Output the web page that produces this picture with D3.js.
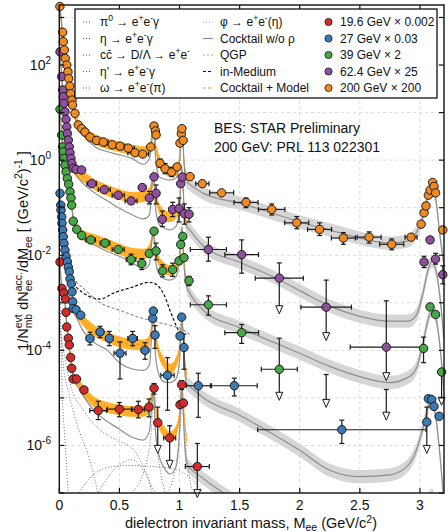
<!DOCTYPE html>
<html>
<head>
<meta charset="utf-8">
<script src="https://cdnjs.cloudflare.com/ajax/libs/d3/7.8.5/d3.min.js"></script>
<style>
  body { margin: 0; background: #fff; }
  text { font-family: "Liberation Sans", Arial, Helvetica, sans-serif; fill: #111; }
</style>
</head>
<body>
<svg id="chart" width="448" height="532"></svg>
<script>
// ---------- data ----------
// measured points: [mass, value, xErr, yHigh, yLow]
var pts196 = [[0.006,0.0072],[0.022,0.002],[0.037,0.0016],[0.052,0.0012],[0.056,6.3e-4],[0.062,3.1e-4],
  [0.075,1.8e-4],[0.083,1.3e-4],[0.095,7.1e-5],[0.103,4.2e-5],[0.116,2.5e-5],[0.143,2.5e-5],[0.205,1.47e-5,0.02],
  [0.324,5.4e-6,0.07,8.5e-6,3.5e-6],[0.5,5.8e-6,0.1,8e-6,4e-6],[0.657,5.7e-6,0.05,8.5e-6,3.8e-6],
  [0.746,6.4e-6,0,9.5e-6,4e-6],[0.788,1.6e-5,0,2e-5,1.2e-5],[1.004,7.2e-6],[1.018,1.9e-5,0,2.3e-5,1.5e-5],[1.032,7.8e-6]];
var pts27 = [[0.006,0.2],[0.012,0.113],[0.014,0.089],[0.02,0.064],[0.022,0.047],[0.028,0.034],[0.033,0.0245],
  [0.039,0.0177],[0.047,0.0128],[0.056,0.0095],[0.067,0.0073],[0.075,0.0056],[0.083,0.0045],[0.089,0.0032],
  [0.1,0.0025],[0.106,0.0017],[0.111,0.00105],[0.116,7.6e-4],[0.139,7.2e-4],[0.178,5.5e-4,0.02],
  [0.255,1.78e-4,0.03,2.4e-4,1.3e-4],[0.339,2.44e-4,0.03,3.2e-4,1.85e-4],[0.416,1.78e-4,0.03,2.5e-4,1.25e-4],
  [0.505,8.7e-5,0.05,1.5e-4,2.5e-5],[0.61,1.78e-4,0.04,2.5e-4,1.25e-4],[0.713,1e-4,0.03,1.45e-4,6.5e-5],
  [0.777,4.7e-4],[0.782,6.7e-4],[0.796,2.1e-4,0,3.3e-4,1.1e-4],[0.9,3e-5,0.055,7e-5,5.5e-6],
  [1.004,2e-4],[1.018,5e-4],[1.037,1.15e-4,0,2.2e-4,4e-5],[1.156,1.8e-5,0.1,3.3e-5,3.9e-6],
  [1.456,1.8e-5,0.19,2.6e-5,1.1e-5],[2.35,2.14e-6,0.7,3.4e-6,1.1e-6],
  [3.07,9.6e-6],[3.098,9.2e-6],[3.117,6.6e-6],[3.16,4.1e-6]];
var pts39 = [[0.006,11.7],[0.02,3.36],[0.028,1.9],[0.033,1.5],[0.039,1.09],[0.047,0.785],[0.056,0.567],
  [0.067,0.41],[0.078,0.31],[0.089,0.215],[0.097,0.16],[0.103,0.113],[0.116,0.052],[0.145,0.035],[0.186,0.026],
  [0.261,0.021,0.04],[0.38,0.018,0.04],[0.49,0.0132,0.05],[0.597,0.0081,0.04,0.0105,0.0063],
  [0.686,0.0067,0.03,0.0085,0.005],[0.749,0.0109],[0.788,0.032],[0.805,0.0123,0,0.018,0.008],
  [0.86,0.0047,0.02,0.0063,0.0035],[0.943,0.005,0.02,0.0068,0.0036],[0.996,0.0076],[1.01,0.0168],
  [1.027,0.025],[1.037,0.0089],[1.079,0.0029,0,0.0036,0.0023],[1.24,9.1e-4,0.15,0.0014,5.5e-4],
  [1.517,2.35e-4,0.14,3.5e-4,1.4e-4],[3.03,1.1e-4,0,1.9e-4,5.5e-5],[3.084,8.2e-4],[3.13,5.7e-4]];
var pts624 = [[0.006,190],[0.02,57],[0.028,30],[0.033,21.5],[0.039,15.6],[0.047,10.4],[0.056,7.2],[0.062,5.0],
  [0.067,3.65],[0.075,2.64],[0.083,1.9],[0.089,1.43],[0.097,1.09],[0.106,0.85],[0.116,0.68],[0.139,0.64],
  [0.186,0.62],[0.27,0.32,0.04],[0.374,0.24,0.05],[0.49,0.183,0.05],[0.597,0.139,0.05],[0.69,0.266,0.03],
  [0.749,0.16,0,0.22,0.12],[0.788,0.445],[0.805,0.2,0,0.3,0.12],[0.857,0.057,0.02,0.085,0.04],
  [0.943,0.092,0.03,0.13,0.065],[0.996,0.096,0,0.16,0.05],[1.01,0.32],[1.023,0.44],
  [1.04,0.075,0,0.12,0.045],[1.079,0.073,0,0.1,0.05],[1.24,0.0132,0.15,0.024,0.0075],
  [1.517,0.0103,0.14,0.021,0.0042],[3.034,0.0072,0,0.0095,0.0055],[3.084,0.021],
  [3.13,0.0083,0,0.011,0.0065],[3.19,0.0039,0.01,0.006,0.0025]];
var pts200 = [[0.005,1700],[0.028,490],[0.033,310],[0.042,208],[0.05,138],[0.062,100],[0.072,72],[0.078,52],
  [0.087,36],[0.095,25],[0.106,18.3],[0.11,14.4],[0.13,9.6],[0.158,5.5],[0.186,4.6],[0.214,3.9],[0.255,3.05],
  [0.31,2.6,0.03],[0.366,2.4,0.04],[0.44,2.1,0.06],[0.505,1.97,0.04],[0.574,1.79,0.05],[0.63,1.43,0.06],
  [0.694,1.34,0.05],[0.76,1.9],[0.788,5.2],[0.8,4.1],[0.805,3.4],[0.838,0.86,0,1.05,0.7],
  [0.88,0.66,0.02,0.85,0.52],[0.935,0.56,0.02,0.7,0.45],[0.98,0.72],[1.004,2.28],[1.015,3.6],[1.02,4.6],
  [1.03,2.6],[1.087,0.45,0.03],[1.19,0.32,0.055],[1.35,0.205,0.1],[1.553,0.129,0.1,0.16,0.1],
  [1.767,0.092,0.11,0.12,0.07],[1.975,0.048,0.1,0.065,0.036],[2.165,0.035,0.1,0.048,0.026],
  [2.363,0.023,0.1,0.03,0.017],[2.577,0.024,0.1,0.031,0.018],[2.765,0.017,0.1,0.022,0.013],
  [2.926,0.024,0.05],[3.01,0.045],[3.034,0.078],[3.05,0.109],[3.07,0.183],[3.084,0.234],[3.106,0.34],
  [3.117,0.28],[3.13,0.205],[3.19,0.034,0.02]];

// upper limits: [mass, value (null = no marker), xErr, barTop, arrowTip]
var lim196 = [[0.819,3e-6,0,6.4e-6,6.8e-7],[0.918,1.44e-6,0.05,2.6e-6,3.3e-7],[1.148,3.6e-7,0.1,1.1e-6,8e-8]];
var lim27 = [[3.057,3.1e-6,0,6.4e-6,6.8e-7]];
var lim39 = [[1.83,4e-5,0.15,1.8e-4,8.9e-6],[2.22,null,0,3.1e-5,6.3e-6],[2.72,null,0,1.5e-5,3.4e-6],
  [3.18,3.5e-5,0,3.5e-5,7e-6]];
var lim624 = [[1.83,0.0033,0.2,0.0069,5.9e-4],[2.22,8.1e-4,0.21,0.003,1.6e-4],[2.72,1.17e-4,0.3,0.0011,2.3e-5]];
var lim200 = [];

// model / cocktail curves
var mLow = [0.005,0.02,0.04,0.06,0.08,0.1,0.12,0.15,0.2,0.3,0.4,0.5,0.6,0.7,0.75,0.77,0.782,0.79,0.8,
  0.83,0.87,0.92,0.97,1.0,1.012,1.02,1.028,1.04,1.06];
var mHigh = [1.08,1.2,1.5,1.75,2.0,2.25,2.5,2.75,2.9,2.97,3.03,3.07,3.1,3.13,3.17,3.2];

var model196 = [0.0075,0.0022,0.0015,4e-4,1.4e-4,5.5e-5,2.7e-5,2.2e-5,1.4e-5,7.8e-6,6.3e-6,5.6e-6,5.2e-6,5.2e-6,
  7e-6,1.2e-5,1.7e-5,1.3e-5,7e-6,3e-6,2e-6,1.5e-6,2e-6,4.5e-6,1.2e-5,1.8e-5,1.1e-5,4e-6,1.2e-6];
var model27 = [0.2,0.064,0.017,0.0085,0.0048,0.0025,7.5e-4,6e-4,4.2e-4,2.5e-4,1.9e-4,1.5e-4,1.35e-4,1.3e-4,
  1.6e-4,3.5e-4,6e-4,4.2e-4,2.2e-4,9e-5,5.5e-5,4e-5,5.5e-5,1.1e-4,3e-4,4.5e-4,2.8e-4,8e-5,3e-5];
var model39 = [12,3.4,1.05,0.5,0.28,0.13,0.052,0.034,0.026,0.021,0.017,0.0135,0.011,0.0105,0.013,0.022,0.032,
  0.026,0.014,0.0075,0.0055,0.0048,0.0055,0.009,0.018,0.026,0.016,0.006,0.0025];
var model624 = [200,57,15,5.8,2.2,1.0,0.7,0.55,0.45,0.3,0.23,0.19,0.165,0.17,0.21,0.33,0.5,0.38,0.2,0.1,0.07,
  0.064,0.075,0.12,0.3,0.45,0.28,0.09,0.045];
var model200 = [1700,700,230,100,48,22,11.5,6.2,4.0,2.7,2.2,1.9,1.65,1.5,1.75,3.0,5.0,4.0,2.2,1.0,0.7,0.58,0.6,
  1.0,2.5,4.3,2.6,0.8,0.42];

var cock196 = [0.0075,0.0022,0.0015,4e-4,1.3e-4,5e-5,2.4e-5,1.8e-5,1.1e-5,5e-6,3.2e-6,2.2e-6,1.5e-6,1.3e-6,2e-6,
  8e-6,1.7e-5,8e-6,2e-6,6e-7,3.5e-7,2.5e-7,3.5e-7,2e-6,1e-5,1.8e-5,8e-6,1.5e-6,4e-7,
  3.5e-7,2e-7,6e-8,2.5e-8,1e-8,5e-9,3e-9,3e-9,4e-9,8e-9,2.5e-8,7e-8,9e-8,5e-8,6e-9,1e-9];
var cock27 = [0.2,0.064,0.017,0.0083,0.0046,0.0024,7e-4,4.5e-4,2.5e-4,1.4e-4,1e-4,5.5e-5,4.1e-5,3.8e-5,5e-5,
  2.5e-4,6e-4,3e-4,8e-5,3e-5,2.2e-5,2.1e-5,2.5e-5,6e-5,2.5e-4,5e-4,2.5e-4,5e-5,2e-5,
  1.8e-5,1e-5,4.3e-6,1.9e-6,7.9e-7,3e-7,2.2e-7,2.4e-7,3.8e-7,7.9e-7,2.6e-6,7e-6,8.9e-6,4.3e-6,5e-7,6e-8];
var cock39 = [12,3.4,1.0,0.48,0.26,0.12,0.048,0.03,0.022,0.016,0.012,0.0095,0.0072,0.0052,0.0065,0.02,0.032,
  0.02,0.008,0.004,0.0032,0.003,0.0035,0.009,0.025,0.04,0.02,0.005,0.0022,
  0.0017,6.9e-4,3e-4,1.6e-4,8.7e-5,4.6e-5,2.8e-5,2.1e-5,2.7e-5,4.2e-5,1.6e-4,4.7e-4,6.9e-4,5.2e-4,1e-4,1.4e-5];
var cock624 = [200,57,15,5.5,2.0,0.9,0.6,0.45,0.32,0.2,0.14,0.097,0.072,0.058,0.07,0.25,0.52,0.3,0.1,0.045,
  0.038,0.034,0.04,0.1,0.4,0.7,0.35,0.08,0.04,
  0.035,0.0155,0.0071,0.0038,0.0018,8.5e-4,5.2e-4,4.1e-4,4.1e-4,5.5e-4,0.0018,0.0053,0.0075,0.0053,0.0011,1.6e-4];
var cock200 = [1700,700,225,95,44,19,10,5.2,3.3,1.9,1.5,1.3,1.1,0.82,1.1,2.5,6.3,3.5,1.2,0.45,0.4,0.38,0.42,
  0.9,2.5,5,2.5,0.7,0.36,
  0.32,0.2,0.125,0.08,0.05,0.034,0.023,0.018,0.02,0.03,0.07,0.2,0.3,0.16,0.022,0.006];

// cocktail components (19.6 GeV), in-medium and QGP curves: [mass, value]
var dPi0 = [[0.005,3e-3],[0.02,3e-5],[0.047,1.3e-6],[0.075,1e-7],[0.1,1e-8]];
var dEta = [[0.005,6e-4],[0.03,6e-5],[0.08,1.2e-5],[0.145,2.9e-6],[0.255,4.8e-7],[0.33,8e-8]];
var dEtaP = [[0.005,3e-4],[0.09,2e-5],[0.2,5.5e-6],[0.34,2.1e-6],[0.48,1.3e-6],[0.62,7.9e-7],[0.7,3.5e-7],
  [0.76,1.3e-7],[0.78,5e-8]];
var dCharm = [[0.14,8e-8],[0.25,2e-7],[0.42,3.5e-7],[0.6,3.8e-7],[0.78,3.6e-7],[0.95,3.2e-7],[1.1,2e-7],[1.2,1e-7]];
var dOmegaD = [[0.3,8e-8],[0.45,3e-7],[0.6,5e-7],[0.7,3e-7],[0.8,1e-7],[0.86,8e-8]];
var dOmega = [[0.6,1e-7],[0.72,4e-7],[0.77,3e-6],[0.782,1.5e-5],[0.795,3e-6],[0.84,3e-7],[0.9,8e-8]];
var dPhi = [[0.9,1e-7],[0.98,6e-7],[1.012,5e-6],[1.02,1.8e-5],[1.03,5e-6],[1.06,6e-7],[1.12,8e-8]];
var inMedium = [[0.08,0.003],[0.2,0.0016],[0.34,0.0012],[0.45,0.0016],[0.6,0.0021],[0.75,0.0027],[0.8,0.0025],
  [0.87,0.0015],[0.93,6e-4],[0.98,3e-4],[1.02,2e-4]];
var qgp = [[0.08,0.004],[0.2,0.002],[0.34,0.001],[0.5,7e-4],[0.66,5e-4],[0.8,4e-4],[0.95,3.2e-4],[1.02,2.8e-4],
  [1.1,2e-4]];

var xTicks = [0, 0.5, 1, 1.5, 2, 2.5, 3];
var yLabelExp = [2, 0, -2, -4, -6];

// ---------- layout ----------
var M = { l: 59.3, r: 444, t: 5, b: 493 };
var x = d3.scaleLinear().domain([0, 3.2]).range([M.l, M.r]);
var y = d3.scaleLog().domain([1e-7, 1830]).range([M.b, M.t]);

var svg = d3.select("#chart");
svg.append("rect").attr("width", 448).attr("height", 532).attr("fill", "#fff");
svg.append("defs").append("clipPath").attr("id", "clip")
  .append("rect").attr("x", M.l).attr("y", M.t).attr("width", M.r - M.l).attr("height", M.b - M.t);

var series = [
  { name: "19.6 GeV \u00d7 0.002", color: "#d42a2c", pts: pts196, lim: lim196, model: model196, cock: cock196 },
  { name: "27 GeV \u00d7 0.03", color: "#3b7ab5", pts: pts27, lim: lim27, model: model27, cock: cock27 },
  { name: "39 GeV \u00d7 2", color: "#47a646", pts: pts39, lim: lim39, model: model39, cock: cock39 },
  { name: "62.4 GeV \u00d7 25", color: "#914f9f", pts: pts624, lim: lim624, model: model624, cock: cock624 },
  { name: "200 GeV \u00d7 200", color: "#f18b1f", pts: pts200, lim: lim200, model: model200, cock: cock200 }
];

var zip = function(ms, vs) { return ms.map(function(m, i) { return [m, vs[i]]; }); };
var mAll = mLow.concat(mHigh);
var line = d3.line().x(function(d) { return x(d[0]); }).y(function(d) { return y(d[1]); })
  .curve(d3.curveMonotoneX);
function band(f) {
  return d3.area().x(function(d) { return x(d[0]); })
    .y0(function(d) { return y(d[1] / f); }).y1(function(d) { return y(d[1] * f); })
    .curve(d3.curveMonotoneX);
}

// grid
var grid = svg.append("g").attr("stroke", "#cfcfcf").attr("stroke-width", 0.8).attr("stroke-dasharray", "3,3");
xTicks.slice(1).forEach(function(t) {
  grid.append("line").attr("x1", x(t)).attr("x2", x(t)).attr("y1", M.t).attr("y2", M.b);
});
d3.range(-6, 4).forEach(function(k) {
  grid.append("line").attr("x1", M.l).attr("x2", M.r).attr("y1", y(Math.pow(10, k))).attr("y2", y(Math.pow(10, k)));
});

var plot = svg.append("g").attr("clip-path", "url(#clip)");

// gray bands (high mass cocktail) and orange bands (cocktail + model)
series.forEach(function(s) {
  var c = zip(mAll, s.cock).filter(function(d) { return d[0] >= 1.04; });
  plot.append("path").datum(c).attr("d", band(1.38)).attr("fill", "#d6d6d6");
});
series.forEach(function(s) {
  plot.append("path").datum(zip(mLow, s.model)).attr("d", band(1.3)).attr("fill", "#ffa914").attr("opacity", 0.9);
  plot.append("path").datum(zip(mLow, s.model)).attr("d", line).attr("fill", "none")
    .attr("stroke", "#f39424").attr("stroke-width", 0.8).attr("stroke-dasharray", "3,2");
});

// components
[dPi0, dEta, dEtaP, dCharm, dOmegaD, dOmega, dPhi].forEach(function(c) {
  plot.append("path").datum(c).attr("d", line).attr("fill", "none")
    .attr("stroke", "#707070").attr("stroke-width", 1).attr("stroke-dasharray", "1,2");
});
plot.append("path").datum(qgp).attr("d", line).attr("fill", "none")
  .attr("stroke", "#8c8c8c").attr("stroke-width", 1.1).attr("stroke-dasharray", "3,2");
plot.append("path").datum(inMedium).attr("d", line).attr("fill", "none")
  .attr("stroke", "#111").attr("stroke-width", 1.2).attr("stroke-dasharray", "3,2");

// cocktail w/o rho lines
series.forEach(function(s) {
  plot.append("path").datum(zip(mAll, s.cock)).attr("d", line).attr("fill", "none")
    .attr("stroke", "#8e8e8e").attr("stroke-width", 1.2);
});

// error bars, limits, points
var eb = svg.append("g").attr("stroke", "#1a1a1a").attr("stroke-width", 1.2).attr("fill", "none");
function hbar(m, dx, v) {
  var x0 = x(m - dx), x1 = x(m + dx), yy = y(v);
  eb.append("line").attr("x1", x0).attr("x2", x1).attr("y1", yy).attr("y2", yy);
  eb.append("line").attr("x1", x0).attr("x2", x0).attr("y1", yy - 2.5).attr("y2", yy + 2.5);
  eb.append("line").attr("x1", x1).attr("x2", x1).attr("y1", yy - 2.5).attr("y2", yy + 2.5);
}
function vbar(m, hi, lo, arrow) {
  var xx = x(m), y0 = y(hi), y1 = y(lo);
  eb.append("line").attr("x1", xx).attr("x2", xx).attr("y1", y0).attr("y2", arrow ? y1 - 7 : y1);
  eb.append("line").attr("x1", xx - 2.5).attr("x2", xx + 2.5).attr("y1", y0).attr("y2", y0);
  if (arrow) {
    eb.append("path").attr("d", "M" + (xx - 3.5) + "," + (y1 - 8) + "L" + (xx + 3.5) + "," + (y1 - 8) +
      "L" + xx + "," + y1 + "Z").attr("fill", "#fff").attr("stroke-width", 1);
  } else {
    eb.append("line").attr("x1", xx - 2.5).attr("x2", xx + 2.5).attr("y1", y1).attr("y2", y1);
  }
}
series.forEach(function(s) {
  s.pts.forEach(function(p) {
    if (p[2]) hbar(p[0], p[2], p[1]);
    if (p[3]) vbar(p[0], p[3], p[4], false);
  });
  s.lim.forEach(function(p) {
    if (p[2] && p[1]) hbar(p[0], p[2], p[1]);
    vbar(p[0], p[3], p[4], true);
  });
});
var dots = svg.append("g");
series.forEach(function(s) {
  var all = s.pts.concat(s.lim.filter(function(p) { return p[1] !== null; }));
  dots.selectAll(null).data(all).enter().append("circle")
    .attr("cx", function(d) { return x(d[0]); }).attr("cy", function(d) { return y(d[1]); })
    .attr("r", 4.2).attr("fill", s.color).attr("stroke", "#1a1a1a").attr("stroke-width", 1);
});

// ---------- axes ----------
var ax = svg.append("g").attr("stroke", "#111").attr("stroke-width", 1.2);
xTicks.forEach(function(t) {
  ax.append("line").attr("x1", x(t)).attr("x2", x(t)).attr("y1", M.b).attr("y2", M.b - 5);
  ax.append("line").attr("x1", x(t)).attr("x2", x(t)).attr("y1", M.t).attr("y2", M.t + 5);
  svg.append("text").attr("x", x(t)).attr("y", 509.5).attr("text-anchor", "middle").attr("font-size", 14).text(t);
});
d3.range(-7, 4).forEach(function(k) {
  var yy = y(Math.pow(10, k));
  ax.append("line").attr("x1", M.l).attr("x2", M.l + 5).attr("y1", yy).attr("y2", yy);
  ax.append("line").attr("x1", M.r).attr("x2", M.r - 5).attr("y1", yy).attr("y2", yy);
});
yLabelExp.forEach(function(k) {
  var t = svg.append("text").attr("x", 51).attr("y", y(Math.pow(10, k)) + 5)
    .attr("text-anchor", "end").attr("font-size", 14);
  t.append("tspan").text("10");
  t.append("tspan").attr("dy", -6).attr("font-size", 10).text(k);
});
svg.append("rect").attr("x", M.l).attr("y", M.t).attr("width", M.r - M.l).attr("height", M.b - M.t)
  .attr("fill", "none").attr("stroke", "#111").attr("stroke-width", 1.4);

// rich text helper: parts = [text, kind] with kind "", "sup", "sub" or "stack" (text = [sup, sub])
function rich(t, parts, size, supK) {
  var shift = 0, pend = 0;
  var small = size * 0.72;
  var up = -size * (supK || 0.4);
  function add(str, target, fs, dx) {
    var ts = t.append("tspan").text(str).attr("dy", target - shift);
    if (fs) ts.attr("font-size", fs);
    if (dx) ts.attr("dx", dx);
    shift = target;
    return ts;
  }
  parts.forEach(function(p) {
    var kind = p[1] || "";
    if (kind === "stack") {
      var a = add(p[0][0], up, small, pend);
      var w1 = a.node().getComputedTextLength();
      var b = add(p[0][1], size * 0.28, small, -w1);
      var w2 = b.node().getComputedTextLength();
      pend = Math.max(0, w1 - w2);
    } else {
      var target = kind === "sup" ? up : kind === "sub" ? size * 0.25 : 0;
      add(p[0], target, kind ? small : null, pend);
      pend = 0;
    }
  });
  return t;
}

// axis titles
rich(svg.append("text").attr("x", 251).attr("y", 527.5).attr("text-anchor", "middle").attr("font-size", 14.5),
  [["dielectron invariant mass, M"], ["ee", "sub"], [" (GeV/c"], ["2", "sup"], [")"]], 14.5, 0.32);
rich(svg.append("text").attr("transform", "translate(28,251) rotate(-90)").attr("text-anchor", "middle")
  .attr("font-size", 14.5),
  [["1/N"], [["evt", "mb"], "stack"], [" dN"], [["acc.", "ee"], "stack"], ["/dM"], ["ee", "sub"],
   [" [ (GeV/c"], ["2", "sup"], [")"], ["-1", "sup"], [" ]"]], 14.5);

// annotation
svg.append("text").attr("x", 214).attr("y", 133).attr("font-size", 14).text("BES: STAR Preliminary");
svg.append("text").attr("x", 214).attr("y", 152).attr("font-size", 14).text("200 GeV: PRL 113 022301");

// ---------- legend ----------
var lg = svg.append("g");
lg.append("rect").attr("x", 75).attr("y", 9).attr("width", 362).attr("height", 89)
  .attr("fill", "#fff").attr("stroke", "#111").attr("stroke-width", 1.3);
var rowsY = [26, 42.5, 59, 75.5, 92];
var col1 = [
  [["\u03c0"], ["0", "sup"], [" \u2192 e"], ["+", "sup"], ["e"], ["-", "sup"], ["\u03b3"]],
  [["\u03b7 \u2192 e"], ["+", "sup"], ["e"], ["-", "sup"], ["\u03b3"]],
  [["cc\u0304 \u2192 D/\u039b \u2192 e"], ["+", "sup"], ["e"], ["-", "sup"]],
  [["\u03b7' \u2192 e"], ["+", "sup"], ["e"], ["-", "sup"], ["\u03b3"]],
  [["\u03c9 \u2192 e"], ["+", "sup"], ["e"], ["-", "sup"], ["(\u03c0)"]]
];
var col2 = [
  { parts: [["\u03c6 \u2192 e"], ["+", "sup"], ["e"], ["-", "sup"], ["(\u03b7)"]], stroke: "#a8a8a8", dash: "1,2" },
  { parts: [["Cocktail w/o \u03c1"]], stroke: "#8e8e8e", dash: null },
  { parts: [["QGP"]], stroke: "#a8a8a8", dash: "2,2" },
  { parts: [["in-Medium"]], stroke: "#111", dash: "3,2" },
  { parts: [["Cocktail + Model"]], stroke: "#f39424", dash: "3,2" }
];
col1.forEach(function(p, i) {
  lg.append("line").attr("x1", 83).attr("x2", 92).attr("y1", rowsY[i] - 4).attr("y2", rowsY[i] - 4)
    .attr("stroke", "#555").attr("stroke-width", 1).attr("stroke-dasharray", "1,2");
  rich(lg.append("text").attr("x", 100).attr("y", rowsY[i]).attr("font-size", 12), p, 12);
});
col2.forEach(function(c, i) {
  lg.append("line").attr("x1", 203).attr("x2", 213).attr("y1", rowsY[i] - 4).attr("y2", rowsY[i] - 4)
    .attr("stroke", c.stroke).attr("stroke-width", 1.2).attr("stroke-dasharray", c.dash);
  rich(lg.append("text").attr("x", 220).attr("y", rowsY[i]).attr("font-size", 12), c.parts, 12);
});
series.forEach(function(s, i) {
  lg.append("circle").attr("cx", 328.5).attr("cy", rowsY[i] - 4).attr("r", 3.6)
    .attr("fill", s.color).attr("stroke", "#1a1a1a").attr("stroke-width", 0.8);
  lg.append("text").attr("x", 340).attr("y", rowsY[i]).attr("font-size", 12).text(s.name);
});
</script>
</body>
</html>
